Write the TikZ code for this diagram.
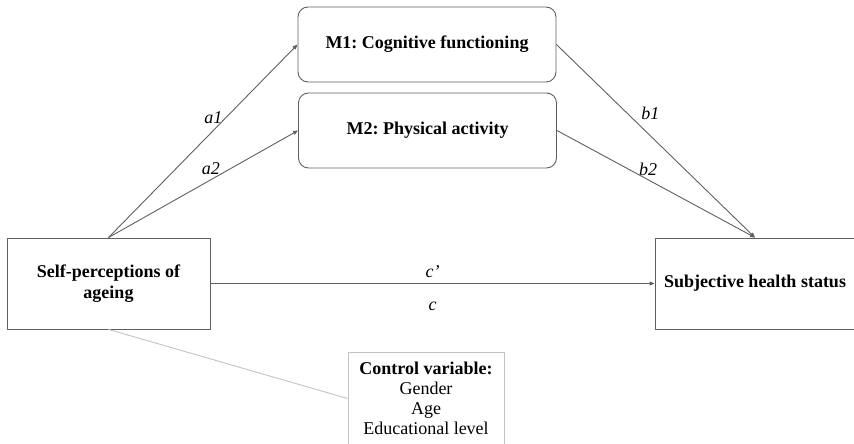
\documentclass[tikz,border=0pt]{standalone}
\usepackage{fontspec}
\setmainfont{Liberation Serif}
\usetikzlibrary{arrows.meta,positioning}
\definecolor{boxline}{RGB}{95,95,95}
\definecolor{ctrlline}{RGB}{195,195,195}
\frenchspacing

\begin{document}
\begin{tikzpicture}[x=1pt, y=1pt,
    box/.style={draw=boxline, line width=0.9pt, inner sep=0pt, align=center, font=\fontsize{18}{21}\selectfont\bfseries},
    medbox/.style={box, rounded corners=10pt, minimum width=258pt, minimum height=75pt},
    link/.style={draw=boxline, line width=0.9pt, -{Triangle[length=5pt, width=4pt]}},
    coef/.style={font=\fontsize{18}{21}\selectfont\itshape, inner sep=1pt},
  ]
  \useasboundingbox (0,0) rectangle (854,444);

  % Predictor and outcome
  \node[box, minimum width=203pt, minimum height=91pt] (spa) at (108.5,160.5) {Self-perceptions of\\ageing};
  \node[box, minimum width=200pt, minimum height=91pt] (shs) at (755,160.5) {Subjective health status};

  % Mediators
  \node[medbox] (m1) at (427,399.5) {M1: Cognitive functioning};
  \node[medbox] (m2) at (427.5,313.5) {M2: Physical activity};

  % Covariates
  \node[box, draw=ctrlline, font=\fontsize{18}{20}\selectfont, minimum width=156pt, minimum height=92pt] (ctrl) at (426,45.5)
    {\textbf{Control variable:}\\Gender\\Age\\Educational level};

  % Indirect paths
  \draw[link] (spa.north) -- node[coef, pos=0.62, left=2pt] {a1} (m1.west);
  \draw[link] (spa.north) -- node[coef, pos=0.54, above=4pt] {a2} (m2.west);
  \draw[link] (m1.east) -- node[coef, pos=0.42, above right=4pt and 0pt] {b1} (shs.north);
  \draw[link] (m2.east) -- node[coef, pos=0.46, above=3pt] {b2} (shs.north);

  % Direct path
  \draw[link] (spa.east) -- node[coef, above=4pt] {c’} node[coef, below=17pt] {c} (shs.west);

  % Control line
  \draw[ctrlline, line width=0.9pt] (spa.south) -- (ctrl.west);
\end{tikzpicture}
\end{document}
